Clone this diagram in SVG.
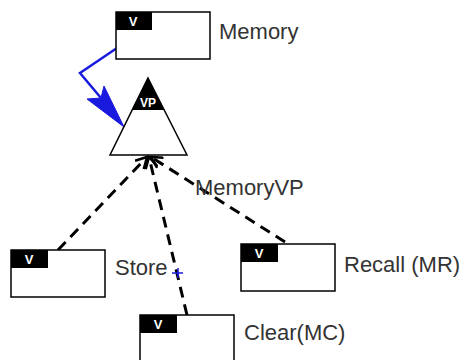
<svg xmlns="http://www.w3.org/2000/svg" width="463" height="360" viewBox="0 0 463 360">
<style>
.box{fill:#fff;stroke:#000;stroke-width:1.5}
.hdr{fill:#000}
.v{font-family:"Liberation Sans",Arial,sans-serif;font-size:13px;font-weight:bold;fill:#fff;text-anchor:middle}
.lbl{font-family:"Liberation Sans",Arial,sans-serif;font-size:22px;fill:#333}
.dash{stroke:#000;stroke-width:3;stroke-dasharray:11 7;fill:none}
</style>
<defs>
<marker id="open" markerWidth="14" markerHeight="14" refX="12" refY="7" orient="auto" markerUnits="userSpaceOnUse">
<path d="M1,1 L12,7 L1,13" fill="none" stroke="#000" stroke-width="2.5"/>
</marker>
</defs>
<g id="connectors">
<polyline points="117,48 80,73 101,98" fill="none" stroke="#1a1adf" stroke-width="2.5"/>
<path d="M124,127 L87,99 L101,98 L104,86 Z" fill="#1a1adf" stroke="#1a1adf" stroke-width="1" stroke-linejoin="miter"/>
<line class="dash" x1="58" y1="250" x2="147" y2="157" marker-end="url(#open)"/>
<line class="dash" x1="187" y1="315" x2="149" y2="157" marker-end="url(#open)"/>
<line class="dash" x1="285" y1="242" x2="151" y2="157" marker-end="url(#open)"/>
<path d="M172,273 H183 M178,268 V278" stroke="#1a1adf" stroke-width="1.5"/>
</g>
<g id="memory">
<rect class="box" x="116" y="12" width="94" height="47"/>
<rect class="hdr" x="116" y="12" width="36" height="18"/>
<text class="v" x="133" y="26">V</text>
<text class="lbl" x="219" y="39">Memory</text>
</g>
<g id="memoryvp">
<polygon points="148,78 187,155 110,155" fill="#fff" stroke="#000" stroke-width="1.5"/>
<polygon points="148,78 164.4,110 131.6,110" fill="#000"/>
<text class="v" x="148" y="107" style="font-size:12px">VP</text>
<text class="lbl" x="195" y="195">MemoryVP</text>
</g>
<g id="store">
<rect class="box" x="11" y="250" width="94" height="47"/>
<rect class="hdr" x="11" y="250" width="37" height="18"/>
<text class="v" x="29" y="264">V</text>
<text class="lbl" x="115" y="275">Store</text>
</g>
<g id="clear">
<rect class="box" x="140" y="315" width="94" height="47"/>
<rect class="hdr" x="140" y="315" width="37" height="18"/>
<text class="v" x="158" y="329">V</text>
<text class="lbl" x="244" y="340">Clear(MC)</text>
</g>
<g id="recall">
<rect class="box" x="241" y="244" width="94" height="47"/>
<rect class="hdr" x="241" y="244" width="37" height="18"/>
<text class="v" x="259" y="258">V</text>
<text class="lbl" x="344" y="272">Recall (MR)</text>
</g>
</svg>
